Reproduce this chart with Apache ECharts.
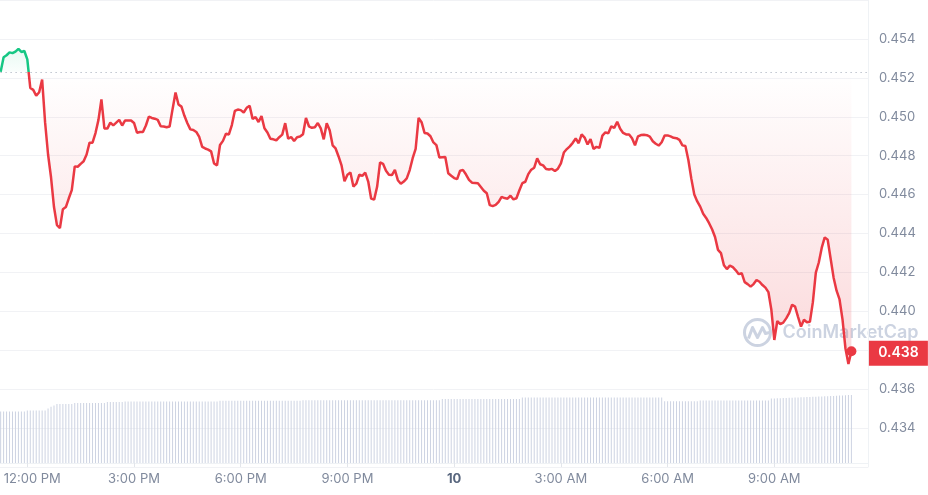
<!DOCTYPE html>
<html><head><meta charset="utf-8">
<script src="https://cdn.jsdelivr.net/npm/echarts@6/dist/echarts.min.js"></script>
<style>html,body{margin:0;padding:0;background:#fff}#c{width:928px;height:495px}</style>
</head><body><div id="c"></div>
<script>
// ---- data ----
const startTime = Date.UTC(2024, 9, 9, 11, 15);   // first 5-minute sample (UTC)
const stepMinutes = 5;
const axisStart = Date.UTC(2024, 9, 9, 9, 0);     // multiple of the 3h tick interval
const axisEnd = Date.UTC(2024, 9, 10, 11, 38);
const tickHours = 3;

const prices = [
0.45231,0.45306,0.45316,0.45331,0.45327,0.45335,0.45349,0.45333,0.45338,0.45295,
0.45148,0.45138,0.45108,0.45126,0.45191,0.44971,0.44806,0.44689,0.44536,0.44443,
0.44428,0.44525,0.44536,0.44581,0.44623,0.44745,0.44743,0.44758,0.44771,0.44806,
0.44867,0.44867,0.44916,0.44984,0.45089,0.44940,0.44939,0.44970,0.44956,0.44970,
0.44984,0.44955,0.44981,0.44981,0.44981,0.44968,0.44918,0.44922,0.44922,0.44955,
0.45001,0.44994,0.44990,0.44984,0.44951,0.44950,0.44946,0.44950,0.45039,0.45125,
0.45063,0.45052,0.45005,0.44967,0.44935,0.44932,0.44922,0.44896,0.44845,0.44837,
0.44831,0.44822,0.44760,0.44750,0.44855,0.44876,0.44913,0.44909,0.44957,0.45030,
0.45037,0.45034,0.45022,0.45046,0.45056,0.44989,0.44998,0.44973,0.45003,0.44941,
0.44919,0.44887,0.44884,0.44879,0.44895,0.44908,0.44967,0.44887,0.44896,0.44875,
0.44895,0.44898,0.44910,0.44994,0.44951,0.44943,0.44946,0.44968,0.44940,0.44884,
0.44967,0.44931,0.44853,0.44837,0.44796,0.44750,0.44668,0.44702,0.44713,0.44641,
0.44656,0.44703,0.44696,0.44713,0.44667,0.44579,0.44574,0.44640,0.44766,0.44758,
0.44722,0.44702,0.44700,0.44727,0.44674,0.44656,0.44667,0.44683,0.44726,0.44787,
0.44835,0.44994,0.44972,0.44917,0.44914,0.44900,0.44868,0.44854,0.44791,0.44792,
0.44793,0.44710,0.44697,0.44685,0.44679,0.44723,0.44726,0.44703,0.44676,0.44661,
0.44660,0.44658,0.44639,0.44620,0.44607,0.44546,0.44541,0.44547,0.44563,0.44588,
0.44582,0.44579,0.44594,0.44575,0.44581,0.44622,0.44659,0.44666,0.44705,0.44728,
0.44738,0.44786,0.44756,0.44750,0.44731,0.44729,0.44732,0.44721,0.44733,0.44760,
0.44816,0.44834,0.44848,0.44866,0.44888,0.44864,0.44909,0.44893,0.44858,0.44885,
0.44835,0.44845,0.44840,0.44903,0.44920,0.44915,0.44951,0.44943,0.44974,0.44938,
0.44917,0.44909,0.44909,0.44889,0.44853,0.44899,0.44906,0.44907,0.44905,0.44898,
0.44874,0.44861,0.44852,0.44869,0.44904,0.44904,0.44899,0.44892,0.44890,0.44881,
0.44853,0.44850,0.44778,0.44682,0.44600,0.44565,0.44538,0.44501,0.44480,0.44453,
0.44422,0.44382,0.44316,0.44299,0.44237,0.44217,0.44235,0.44227,0.44211,0.44191,
0.44196,0.44150,0.44140,0.44127,0.44140,0.44161,0.44152,0.44135,0.44122,0.44099,
0.44008,0.43853,0.43950,0.43934,0.43942,0.43964,0.43991,0.44034,0.44024,0.43972,
0.43922,0.43957,0.43944,0.43946,0.44047,0.44199,0.44251,0.44327,0.44380,0.44368,
0.44270,0.44173,0.44106,0.44061,0.43959,0.43809,0.43729,0.43795
];

// 24h volume (millions), one bar per 5-minute sample
const volumes = [
206,206,206,206,206,206,206,206,206,210,
210,210,210,210,210,210,218,225,230,236,
236,236,236,236,236,240,240,240,240,240,
240,240,240,240,240,240,244,244,244,244,
244,244,246,246,246,246,246,246,246,246,
246,246,246,246,246,246,246,246,246,246,
246,246,246,246,246,246,246,246,246,246,
246,246,246,246,249,249,249,249,249,249,
249,249,249,249,249,249,249,249,249,249,
249,249,249,249,249,249,249,249,249,249,
249,249,251,251,251,251,251,251,251,251,
251,251,251,251,251,251,251,251,251,251,
251,251,251,251,251,251,251,251,251,251,
251,251,251,251,251,251,251,251,251,251,
251,251,251,251,251,251,251,251,251,256,
256,256,256,256,256,256,256,256,256,256,
256,256,256,256,256,256,256,256,256,256,
256,256,256,256,256,256,262,262,262,262,
262,262,262,262,262,262,262,262,262,262,
262,262,262,262,262,262,262,262,262,262,
262,262,262,262,262,262,262,262,262,262,
262,262,262,262,262,262,262,262,262,262,
262,262,262,262,247,247,247,247,247,247,
247,247,247,247,247,247,250,250,250,250,
250,250,250,250,250,250,250,250,250,250,
250,250,250,250,250,250,250,250,250,250,
258,258,259,259,260,260,261,261,262,262,
263,263,264,264,265,265,266,266,267,267,
268,268,269,270,270,271,272,272
];

const priceAxis = { min: 0.432, max: 0.456, interval: 0.002 };
const volumeAxis = { min: 0, max: 300 };

// ---- build ----
const times = prices.map((_, i) => startTime + i * stepMinutes * 60000);
const priceData = prices.map((p, i) => [times[i], p]);
const volumeData = volumes.map((v, i) => [times[i], v]);
const base = prices[0];
const last = priceData[priceData.length - 1];
const tickMs = tickHours * 3600000;
const firstVisibleTick = Math.ceil(startTime / tickMs) * tickMs;

const GREEN = '#16c784', RED = '#ea3943';
const labelColor = '#808a9d';
const FONT = 'Inter, "Noto Sans", sans-serif';

function fmtTime(val) {
  const d = new Date(val);
  const h = d.getUTCHours(), m = d.getUTCMinutes();
  if (h === 0 && m === 0) return '{day|' + d.getUTCDate() + '}';
  const h12 = h % 12 === 0 ? 12 : h % 12;
  const txt = h12 + ':' + String(m).padStart(2, '0') + ' ' + (h < 12 ? 'AM' : 'PM');
  return val === firstVisibleTick ? '{edge|' + txt + '}' : txt;
}

// plot spans x = 0..868 from 11:14 onward; the axis starts at 9:00 (off-canvas to the left)
const gridLeft = -79.4;
const gridRight = 60;

const chart = echarts.init(document.getElementById('c'), null, { renderer: 'canvas' });
const option = {
  animation: false,
  backgroundColor: '#ffffff',
  textStyle: { fontFamily: FONT },
  grid: [
    { left: gridLeft, right: gridRight, top: 0, bottom: 28, outerBoundsMode: 'none', containLabel: false },
    { left: gridLeft, right: gridRight, top: 388, bottom: 32, outerBoundsMode: 'none', containLabel: false }
  ],
  xAxis: [
    { type: 'value', gridIndex: 0, min: axisStart, max: axisEnd, interval: tickMs, show: false, splitLine: { show: false } },
    {
      type: 'value', gridIndex: 1, min: axisStart, max: axisEnd, interval: tickMs,
      axisLine: { show: true, lineStyle: { color: '#eff2f5', width: 1 } },
      axisTick: { show: true, length: 4, lineStyle: { color: '#e3e6eb' } },
      splitLine: { show: false },
      axisLabel: {
        color: labelColor, fontSize: 13, fontFamily: FONT, margin: 10,
        showMinLabel: false, showMaxLabel: false,
        formatter: fmtTime,
        rich: {
          day: { fontWeight: 'bold', color: '#58667e', fontSize: 13, fontFamily: FONT },
          edge: { color: labelColor, fontSize: 13, fontFamily: FONT, padding: [0, 0, 0, 10] }
        }
      }
    }
  ],
  yAxis: [
    {
      type: 'value', gridIndex: 0, position: 'right',
      min: priceAxis.min, max: priceAxis.max, interval: priceAxis.interval,
      axisLine: { show: true, lineStyle: { color: '#eff2f5' } },
      axisTick: { show: false },
      splitLine: { show: true, lineStyle: { color: '#f1f2f5', width: 1 } },
      axisLabel: {
        color: labelColor, fontSize: 13, fontFamily: FONT, margin: 11,
        showMinLabel: false, showMaxLabel: false,
        formatter: v => v.toFixed(3)
      }
    },
    {
      type: 'value', gridIndex: 1, min: volumeAxis.min, max: volumeAxis.max,
      show: false, splitLine: { show: false }
    }
  ],
  graphic: [
    {
      type: 'group', left: 742, top: 317, z: 1, silent: true,
      children: [
        { type: 'circle', shape: { cx: 15, cy: 14, r: 13 }, style: { fill: 'none', stroke: '#ccd3e1', lineWidth: 3 } },
        { type: 'polyline', shape: { points: [[6, 20], [10, 9], [15, 19], [20, 9], [23, 15], [27, 14]] },
          style: { fill: 'none', stroke: '#ccd3e1', lineWidth: 3, lineJoin: 'round' } },
        { type: 'text', x: 40, y: 14, style: { text: 'CoinMarketCap', fill: '#ccd3e1', font: '600 18px ' + FONT, verticalAlign: 'middle' } }
      ]
    }
  ],
  series: [
    {
      id: 'volume', type: 'bar', xAxisIndex: 1, yAxisIndex: 1,
      data: volumeData, barWidth: 1, silent: true,
      itemStyle: { color: '#cdd3e2' }, z: 1
    },
    {
      id: 'price', type: 'line', xAxisIndex: 0, yAxisIndex: 0,
      data: priceData, showSymbol: false, smooth: false, z: 5,
      lineStyle: { width: 2.5, color: RED },
      itemStyle: { color: RED },
      areaStyle: { origin: base, color: 'rgba(234,57,67,0.15)' },
      markLine: {
        silent: true, symbol: ['none', 'none'], label: { show: false }, precision: 6,
        lineStyle: { type: [1, 4], color: '#9ea6b5', width: 1 },
        data: [{ yAxis: base }]
      },
      markPoint: {
        silent: true,
        data: [
          { coord: last, symbol: 'circle', symbolSize: 10, itemStyle: { color: RED }, label: { show: false } },
          { coord: last, symbol: 'rect', symbolSize: [59, 25], symbolOffset: [47, 2],
            itemStyle: { color: RED },
            label: { show: true, position: 'inside', formatter: last[1].toFixed(3), color: '#ffffff', fontSize: 14, fontWeight: 600, fontFamily: FONT } }
        ]
      }
    }
  ]
};
chart.setOption(option);

// gradients placed in pixel space using the axis scale
const yTop = chart.convertToPixel({ yAxisIndex: 0 }, Math.max(...prices));
const yBase = chart.convertToPixel({ yAxisIndex: 0 }, base);
const yBot = chart.convertToPixel({ yAxisIndex: 0 }, Math.min(...prices));
const ob = (yBase - yTop) / (yBot - yTop);
chart.setOption({
  series: [{
    id: 'price',
    lineStyle: { color: { type: 'linear', x: 0, y: yTop, x2: 0, y2: yBot, global: true,
      colorStops: [{ offset: 0, color: GREEN }, { offset: ob, color: GREEN }, { offset: ob, color: RED }, { offset: 1, color: RED }] } },
    areaStyle: { color: { type: 'linear', x: 0, y: yTop, x2: 0, y2: yBot, global: true,
      colorStops: [
        { offset: 0, color: 'rgba(22,199,132,0.14)' },
        { offset: ob, color: 'rgba(22,199,132,0.03)' },
        { offset: ob, color: 'rgba(234,57,67,0.0)' },
        { offset: 1, color: 'rgba(234,57,67,0.28)' }
      ] } }
  }]
});
</script>
</body></html>
